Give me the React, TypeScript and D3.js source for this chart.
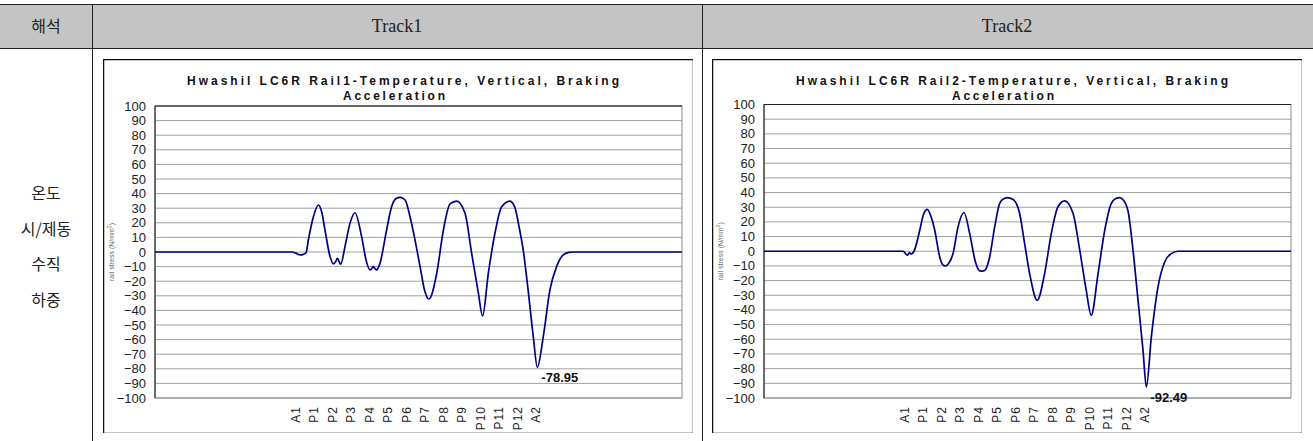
import React, { useEffect, useRef } from 'react';
import * as d3 from 'd3';

// x positions are in "support index" units: A1 = 0, P1 = 1, ... A2 = 13
const xLabels = ['A1', 'P1', 'P2', 'P3', 'P4', 'P5', 'P6', 'P7', 'P8', 'P9', 'P10', 'P11', 'P12', 'A2'];
const yTicks = [100, 90, 80, 70, 60, 50, 40, 30, 20, 10, 0, -10, -20, -30, -40, -50, -60, -70, -80, -90, -100];

const rail1Pos = [-7.57, -0.2, 0.05, 0.27, 0.45, 0.6, 0.72, 0.99, 1.26, 1.45, 1.62, 1.89, 2.07, 2.2, 2.29, 2.38, 2.47, 2.7, 2.97, 3.24, 3.6, 3.84, 4.05, 4.15, 4.23, 4.32, 4.41, 4.59, 4.95, 5.22, 5.45, 5.68, 5.95, 6.22, 6.49, 6.76, 7.0, 7.24, 7.66, 8.02, 8.38, 8.74, 9.19, 9.55, 9.91, 10.14, 10.45, 10.81, 11.17, 11.62, 11.9, 12.1, 12.34, 12.6, 12.88, 13.1, 13.42, 13.78, 14.14, 14.5, 14.8, 15.04, 20.92];
const rail1Stress = [0, 0, -0.8, -2, -1.6, -0.3, 8.2, 24, 32.2, 27, 15, -3, -8.2, -6.5, -4.3, -6.5, -8.4, 3.7, 19.6, 26.9, 10.5, -5.5, -12.3, -11.3, -10, -11.3, -12.3, -7.8, 15, 31, 36.5, 37.4, 35.6, 24, 8, -10, -26, -32.2, -14.6, 15, 33, 34.9, 26.5, -1, -28, -43.8, -14.6, 13, 31, 34.9, 30, 18, 1, -26, -58, -78.95, -58, -26, -10, -2, -0.3, 0, 0];

const rail2Pos = [-7.57, -0.05, 0.18, 0.3, 0.38, 0.54, 0.85, 1.05, 1.26, 1.45, 1.66, 1.93, 2.1, 2.23, 2.4, 2.65, 2.92, 3.24, 3.55, 3.86, 4.1, 4.23, 4.35, 4.63, 4.9, 5.17, 5.3, 5.58, 5.9, 6.25, 6.52, 6.79, 7.2, 7.6, 7.96, 8.32, 8.68, 9.14, 9.5, 9.85, 10.12, 10.49, 10.85, 11.2, 11.45, 11.66, 11.85, 12.1, 12.38, 12.65, 12.92, 13.1, 13.37, 13.73, 14.09, 14.45, 14.81, 20.92];
const rail2Stress = [0, 0, -2.7, -1, -2, 0, 14.3, 25, 28.6, 24, 14.3, -3.9, -9.3, -10, -8.5, -1.6, 16.6, 26.4, 12, -7.3, -13.4, -13.6, -13.2, -3.9, 16.6, 32.5, 35, 36.6, 35.3, 25.7, 5.2, -15.2, -33.4, -15.2, 12, 30.2, 34.3, 25.7, 0.7, -26.6, -43.6, -15.2, 14.3, 32.5, 36, 36.6, 35, 28, 0.7, -33.4, -67.5, -92.49, -58.4, -24.3, -7.3, -1.6, 0, 0];

const charts = [
  { name: 'Rail1', boxX: 103, plotTop: 106, pos: rail1Pos, stress: rail1Stress },
  { name: 'Rail2', boxX: 712, plotTop: 104.5, pos: rail2Pos, stress: rail2Stress },
];

const App: React.FC = () => {
  const svgRef = useRef<SVGSVGElement>(null);

  useEffect(() => {
    if (!svgRef.current) return;
    const svg = d3.select(svgRef.current);
    svg.selectAll('*').remove();

    const W = 1313, H = 441;

    // --- table frame ---
    svg.append('rect').attr('x', 0).attr('y', 4).attr('width', W).attr('height', 44).attr('fill', '#c4c4c4');
    svg.append('line').attr('x1', 0).attr('x2', W).attr('y1', 4.5).attr('y2', 4.5).attr('stroke', '#222');
    svg.append('line').attr('x1', 0).attr('x2', W).attr('y1', 48.5).attr('y2', 48.5).attr('stroke', '#222');
    [92.5, 702.5].forEach(x => {
      svg.append('line').attr('x1', x).attr('x2', x).attr('y1', 4).attr('y2', H).attr('stroke', '#222');
    });

    const headerFont = '"Liberation Serif", serif';
    svg.append('text').attr('x', 46).attr('y', 32).attr('text-anchor', 'middle')
      .attr('font-family', '"Noto Sans CJK KR", sans-serif').attr('font-size', 16).attr('fill', '#222').text('해석');
    svg.append('text').attr('x', 397).attr('y', 32).attr('text-anchor', 'middle')
      .attr('font-family', headerFont).attr('font-size', 18).attr('fill', '#222').text('Track1');
    svg.append('text').attr('x', 1007).attr('y', 32).attr('text-anchor', 'middle')
      .attr('font-family', headerFont).attr('font-size', 18).attr('fill', '#222').text('Track2');

    ['온도', '시/제동', '수직', '하중'].forEach((t, i) => {
      svg.append('text').attr('x', 46).attr('y', 199 + i * 35.5).attr('text-anchor', 'middle')
        .attr('font-family', '"Noto Sans CJK KR", sans-serif').attr('font-size', 16).attr('fill', '#222').text(t);
    });

    const sans = '"Liberation Sans", Arial, sans-serif';

    charts.forEach((c, ci) => {
      const boxY = 59, boxW = 590, boxH = 374;
      const plotLeft = c.boxX + 52, plotRight = c.boxX + 579, plotBottom = 398;

      const clipId = `clip${ci}`;
      svg.append('clipPath').attr('id', clipId).append('rect')
        .attr('x', c.boxX).attr('y', boxY).attr('width', boxW).attr('height', boxH);

      const g = svg.append('g').attr('clip-path', `url(#${clipId})`);

      g.append('rect').attr('x', c.boxX + 0.5).attr('y', boxY + 0.5).attr('width', boxW).attr('height', boxH)
        .attr('fill', '#fff').attr('stroke', '#111').attr('stroke-width', 1.5);

      const x = d3.scaleLinear().domain([-7.57, 20.92]).range([plotLeft, plotRight]);
      const y = d3.scaleLinear().domain([-100, 100]).range([plotBottom, c.plotTop]);

      // gridlines
      yTicks.forEach(t => {
        g.append('line').attr('x1', plotLeft).attr('x2', plotRight)
          .attr('y1', y(t)).attr('y2', y(t)).attr('stroke', '#a0a0a0').attr('stroke-width', 1);
      });
      g.append('rect').attr('x', plotLeft).attr('y', c.plotTop).attr('width', plotRight - plotLeft)
        .attr('height', plotBottom - c.plotTop).attr('fill', 'none').attr('stroke', '#8c8c8c');
      g.append('line').attr('x1', plotLeft).attr('x2', plotRight).attr('y1', c.plotTop).attr('y2', c.plotTop)
        .attr('stroke', '#222');
      g.append('line').attr('x1', plotLeft).attr('x2', plotLeft).attr('y1', c.plotTop).attr('y2', plotBottom)
        .attr('stroke', '#111');

      // y tick labels
      yTicks.forEach(t => {
        g.append('text').attr('x', plotLeft - 9).attr('y', y(t) + 4.5).attr('text-anchor', 'end')
          .attr('font-family', sans).attr('font-size', 13).attr('fill', '#222')
          .text(t < 0 ? `\u2212${-t}` : `${t}`);
      });

      // y axis title
      const yt = g.append('text').attr('transform', `translate(${c.boxX + 11},${(c.plotTop + plotBottom) / 2}) rotate(-90)`)
        .attr('text-anchor', 'middle').attr('font-family', sans).attr('font-size', 7).attr('fill', '#666');
      yt.append('tspan').text('rail stress (N/mm');
      yt.append('tspan').attr('font-size', 5).attr('dy', -3).text('2');
      yt.append('tspan').attr('dy', 3).text(')');

      // x labels
      xLabels.forEach((l, i) => {
        g.append('text').attr('transform', `translate(${x(i) + 4.5},${plotBottom + 8}) rotate(-90)`)
          .attr('text-anchor', 'end').attr('font-family', sans).attr('font-size', 12)
          .attr('letter-spacing', 1).attr('fill', '#222').text(l);
      });

      // title
      g.append('text').attr('x', c.boxX + 300).attr('y', 85).attr('text-anchor', 'middle')
        .attr('font-family', sans).attr('font-weight', 'bold').attr('font-size', 12).attr('fill', '#111')
        .attr('textLength', 432).attr('lengthAdjust', 'spacing')
        .text(`Hwashil LC6R ${c.name}-Temperature, Vertical, Braking`);
      g.append('text').attr('x', c.boxX + 291).attr('y', 100).attr('text-anchor', 'middle')
        .attr('font-family', sans).attr('font-weight', 'bold').attr('font-size', 12).attr('fill', '#111')
        .attr('textLength', 102).attr('lengthAdjust', 'spacing')
        .text('Acceleration');

      // curve
      const pts = c.pos.map((p, i) => ({ p, v: c.stress[i] }));
      const line = d3.line<{ p: number; v: number }>().x(d => x(d.p)).y(d => y(d.v)).curve(d3.curveMonotoneX);
      g.append('path').datum(pts).attr('d', line).attr('fill', 'none')
        .attr('stroke', '#000080').attr('stroke-width', 1.7);

      // min label
      const minPt = pts.reduce((a, b) => (b.v < a.v ? b : a));
      g.append('text').attr('x', x(minPt.p) + 4).attr('y', y(minPt.v) + 15)
        .attr('font-family', sans).attr('font-weight', 'bold').attr('font-size', 13).attr('fill', '#111')
        .text(minPt.v.toFixed(2));
    });
  }, []);

  return (
    <div style={{ position: 'absolute', left: 0, top: 0 }}>
      <svg ref={svgRef} width={1313} height={441} style={{ display: 'block', background: '#fff' }} />
    </div>
  );
};

export default App;
